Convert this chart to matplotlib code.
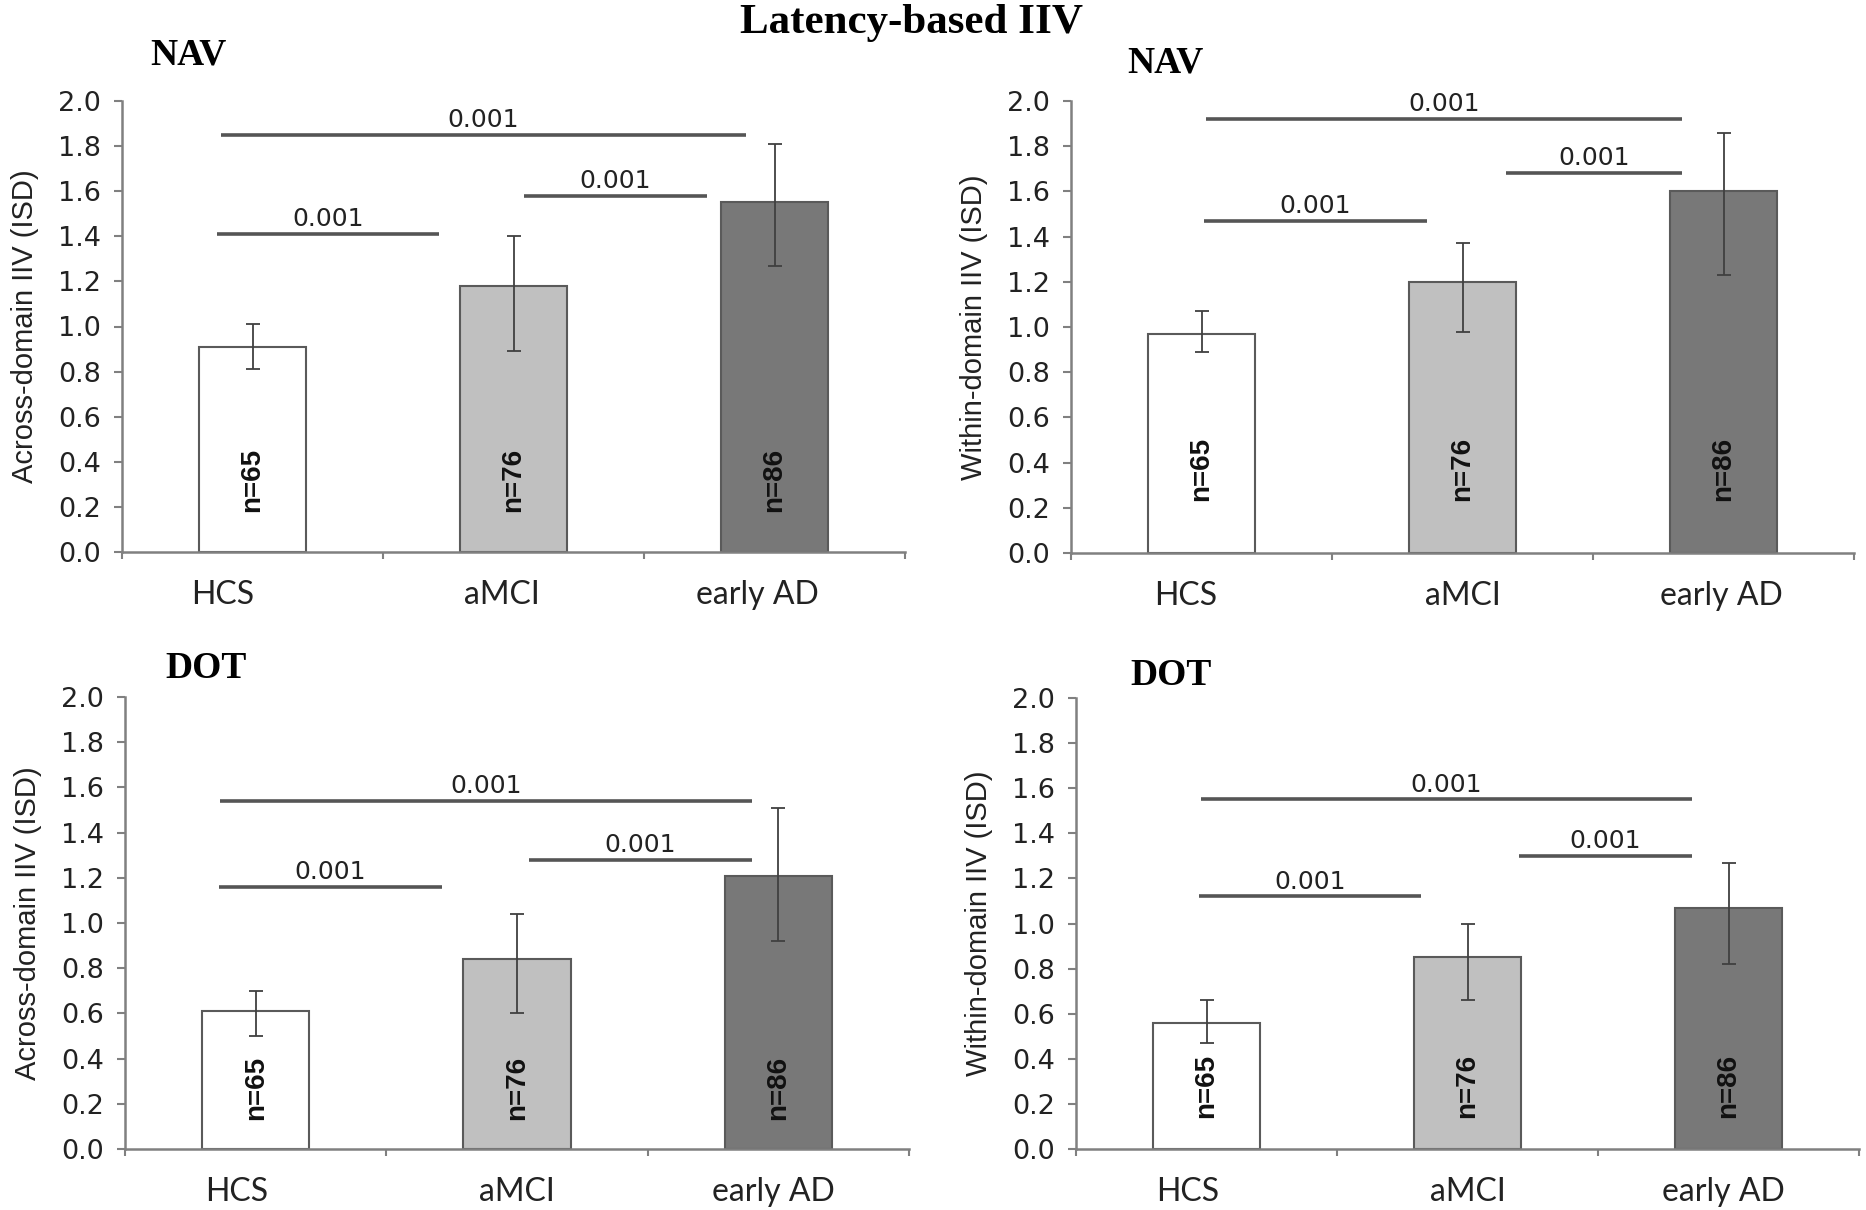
import matplotlib
matplotlib.use("Agg")
import matplotlib.pyplot as plt

# ---- data ----
groups = ["HCS", "aMCI", "early AD"]
n_labels = ["n=65", "n=76", "n=86"]

nav_across_mean = [0.91, 1.18, 1.55]
nav_across_low = [0.81, 0.89, 1.27]
nav_across_high = [1.01, 1.40, 1.81]

nav_within_mean = [0.97, 1.20, 1.60]
nav_within_low = [0.89, 0.98, 1.23]
nav_within_high = [1.07, 1.37, 1.86]

dot_across_mean = [0.61, 0.84, 1.21]
dot_across_low = [0.50, 0.60, 0.92]
dot_across_high = [0.70, 1.04, 1.51]

dot_within_mean = [0.56, 0.85, 1.07]
dot_within_low = [0.47, 0.66, 0.82]
dot_within_high = [0.66, 1.00, 1.27]

p_values = ["0.001", "0.001", "0.001"]
nav_across_sig = [1.41, 1.58, 1.85]
nav_within_sig = [1.47, 1.68, 1.92]
dot_across_sig = [1.16, 1.28, 1.54]
dot_within_sig = [1.12, 1.30, 1.55]

bar_colors = ["#ffffff", "#c0c0c0", "#787878"]
edge_color = "#5a5a5a"
axis_color = "#808080"
text_color = "#222222"

W, H = 1866, 1210
fig = plt.figure(figsize=(W / 100, H / 100), dpi=100)


def px_rect(left, right, bottom, top):
    return [left / W, 1 - bottom / H, (right - left) / W, (bottom - top) / H]


panels = [
    # axes box in px, panel title + its spot, data, significance bars,
    # n-label height, small sideways nudge of the category labels
    dict(rect=px_rect(122, 905, 552, 101), title="NAV", tpos=(0.036, 1.082),
         ylabel="Across-domain IIV (ISD)",
         mean=nav_across_mean, low=nav_across_low, high=nav_across_high,
         sig=nav_across_sig,
         spans=[(-0.136, 0.715), (1.04, 1.74), (-0.12, 1.89)], ny=0.32,
         shift=[-0.115, -0.046, -0.067]),
    dict(rect=px_rect(1071, 1854, 553, 101), title="NAV", tpos=(0.072, 1.062),
         ylabel="Within-domain IIV (ISD)",
         mean=nav_within_mean, low=nav_within_low, high=nav_within_high,
         sig=nav_within_sig,
         spans=[(0.01, 0.864), (1.167, 1.84), (0.016, 1.84)], ny=0.37,
         shift=[-0.06, 0.0, -0.01]),
    dict(rect=px_rect(125, 909, 1149, 697), title="DOT", tpos=(0.052, 1.042),
         ylabel="Across-domain IIV (ISD)",
         mean=dot_across_mean, low=dot_across_low, high=dot_across_high,
         sig=dot_across_sig,
         spans=[(-0.14, 0.713), (1.046, 1.90), (-0.135, 1.90)], ny=0.27,
         shift=[-0.073, 0.0, -0.02]),
    dict(rect=px_rect(1076, 1859, 1149, 698), title="DOT", tpos=(0.070, 1.029),
         ylabel="Within-domain IIV (ISD)",
         mean=dot_within_mean, low=dot_within_low, high=dot_within_high,
         sig=dot_within_sig,
         spans=[(-0.029, 0.822), (1.197, 1.86), (-0.021, 1.86)], ny=0.28,
         shift=[-0.073, 0.0, -0.02]),
]

x = list(range(len(groups)))

for p in panels:
    ax = fig.add_axes(p["rect"])
    mean, low, high = p["mean"], p["low"], p["high"]
    yerr = [[m - l for m, l in zip(mean, low)], [h - m for m, h in zip(mean, high)]]
    ax.bar(x, mean, width=0.41, color=bar_colors, edgecolor=edge_color,
           linewidth=1.5, zorder=2)
    ax.errorbar(x, mean, yerr=yerr, fmt="none", ecolor="#404040",
                elinewidth=1.3, capsize=5, capthick=1.3, zorder=3)

    for xi, lab in zip(x, n_labels):
        ax.text(xi, p["ny"], lab, rotation=90, ha="center", va="center",
                fontsize=20, fontweight="bold", family="Liberation Sans",
                color="#111111", zorder=4)

    for (x0, x1), yv, pv in zip(p["spans"], p["sig"], p_values):
        ax.plot([x0, x1], [yv, yv], color="#555555", lw=2.6,
                solid_capstyle="butt", zorder=3)
        ax.text((x0 + x1) / 2, yv + 0.035, pv, ha="center", va="baseline",
                fontsize=18, family="DejaVu Sans", color=text_color)

    ax.set_xlim(-0.5, 2.5)
    ax.set_ylim(0, 2.0)
    ax.set_yticks([i / 10 for i in range(0, 21, 2)])
    ax.set_yticklabels([f"{i / 10:.1f}" for i in range(0, 21, 2)],
                       family="DejaVu Sans", fontsize=19.5, color=text_color)
    ax.set_xticks([-0.5, 0.5, 1.5, 2.5])
    ax.set_xticklabels([])
    ax.set_xticks([xi + s for xi, s in zip(x, p["shift"])], minor=True)
    ax.set_xticklabels(groups, minor=True, family="Lato", fontsize=23,
                       color=text_color)
    ax.tick_params(axis="x", which="major", direction="out", length=5,
                   width=1.5, color=axis_color)
    ax.tick_params(axis="x", which="minor", length=0, pad=20)
    ax.tick_params(axis="y", direction="out", length=6, width=1.5,
                   color=axis_color, pad=9)

    for side in ("top", "right"):
        ax.spines[side].set_visible(False)
    for side in ("left", "bottom"):
        ax.spines[side].set_color(axis_color)
        ax.spines[side].set_linewidth(1.8)

    ax.set_ylabel(p["ylabel"], family="Liberation Sans", fontsize=21,
                  color=text_color)
    ax.yaxis.set_label_coords(-0.106, 0.5)

    ax.text(p["tpos"][0], p["tpos"][1], p["title"], transform=ax.transAxes,
            ha="left", va="baseline", family="Liberation Serif",
            fontweight="bold", fontsize=27, color="#000000")

fig.text(911 / W, 1 - 33 / H, "Latency-based IIV", ha="center", va="baseline",
         family="Liberation Serif", fontweight="bold", fontsize=31,
         color="#000000")

fig.savefig("out.png", dpi=100)
